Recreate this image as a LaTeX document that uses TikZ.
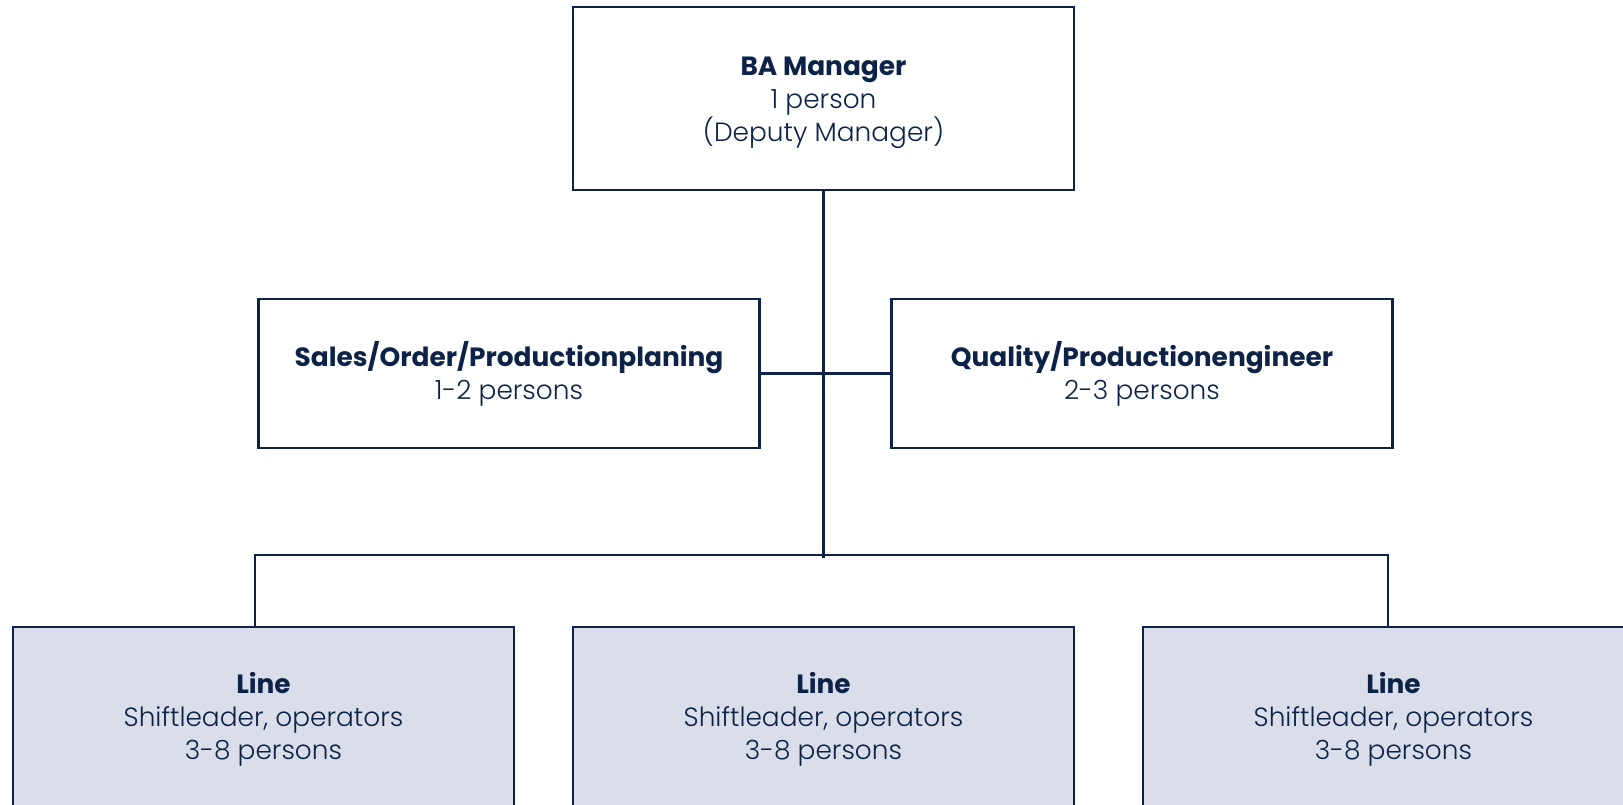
\documentclass[tikz,border=0pt]{standalone}
\usepackage{fontspec}
\setmainfont{Poppins}[UprightFont=* Light,BoldFont=* Bold]
\usetikzlibrary{positioning}
\definecolor{navy}{RGB}{12,35,71}
\definecolor{linefill}{RGB}{218,222,235}
\newcommand\boxfont{\fontsize{13.2}{16.5}\selectfont\lineskiplimit=-20pt\relax}

\begin{document}
\begin{tikzpicture}[x=0.5pt,y=-0.5pt,
  box/.style={draw=navy,line width=1.2pt,text=navy,align=center,inner sep=0pt,
    minimum width=250.5pt,font=\boxfont,text depth=4pt},
  threeline/.style={box,text height=46.6pt},
  twoline/.style={box,text height=30.4pt,minimum height=74.5pt},
  linebox/.style={threeline,fill=linefill,minimum height=90pt},
  conn/.style={draw=navy,line width=1.2pt}]
  \useasboundingbox (0,0) rectangle (1623,804);
  \clip (0,0) rectangle (1623,804);

  \node[threeline,minimum height=91.5pt] (ba) at (823.5,98.5) {\textbf{BA Manager}\\1 person\\(Deputy Manager)};
  \node[twoline] (sales) at (509,373.5) {\textbf{Sales/Order/Productionplaning}\\1-2 persons};
  \node[twoline,right=64.8pt of sales] (quality) {\textbf{Quality/Productionengineer}\\2-3 persons};

  \node[linebox] (line1) at (263.5,717) {\textbf{Line}\\Shiftleader, operators\\3-8 persons};
  \node[linebox,right=28.3pt of line1] (line2) {\textbf{Line}\\Shiftleader, operators\\3-8 persons};
  \node[linebox,right=33.3pt of line2] (line3) {\textbf{Line}\\Shiftleader, operators\\3-8 persons};

  \coordinate (busend) at (823.5,558);
  \coordinate (busl) at (255,555);
  \coordinate (busr) at (1388,555);

  \draw[conn] (ba.south) -- (busend);
  \draw[conn] (sales.east) -- (quality.west);
  \draw[conn] (busl |- line1.north) -- (busl) -- (busr) -- (busr |- line3.north);
\end{tikzpicture}
\end{document}
